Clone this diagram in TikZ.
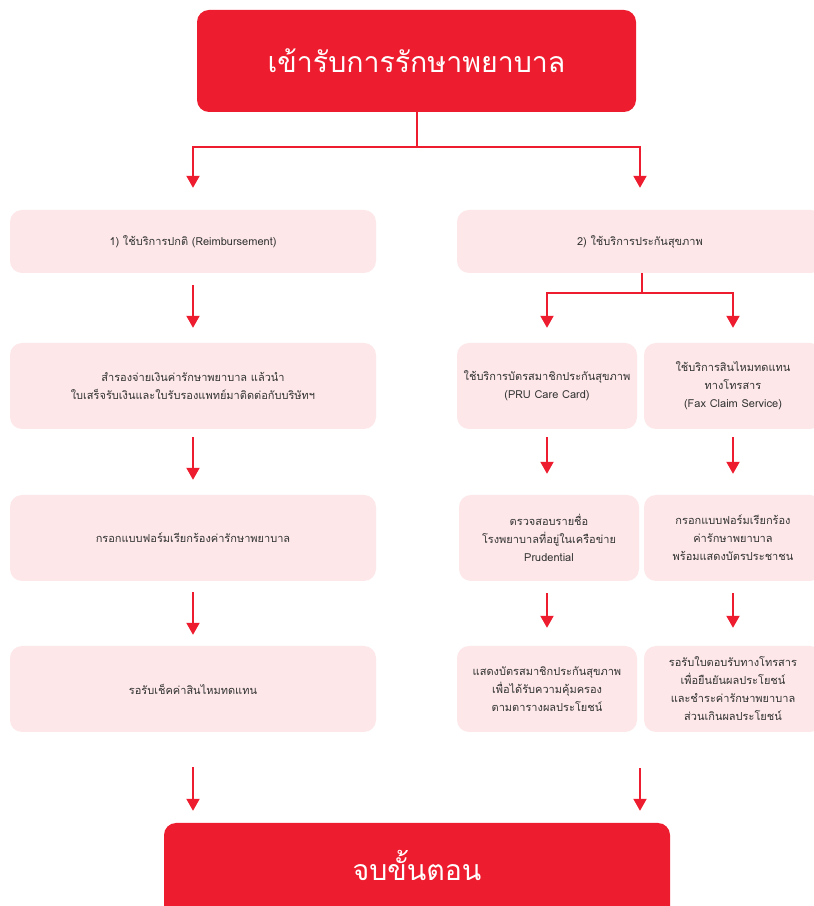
\documentclass[tikz,border=0pt]{standalone}
\usepackage{fontspec}
\newfontfamily\thaifont[Script=Thai]{Loma}
\usetikzlibrary{arrows.meta}
\definecolor{prured}{HTML}{ED1C2E}
\definecolor{prupink}{HTML}{FDE7E9}
\definecolor{prutext}{HTML}{333333}

\begin{document}
\begin{tikzpicture}[x=1pt, y=1pt, >={Triangle[width=13pt,length=12pt]},
	mainbox/.style={fill=prured, text=white, rounded corners=12pt, font=\thaifont\fontsize{28.5}{34}\selectfont},
	stepbox/.style={fill=prupink, text=prutext, rounded corners=12pt, align=center, font=\thaifont\fontsize{11}{18}\selectfont},
	link/.style={prured, line width=2pt},
	]
	\clip (0,0) rectangle (814,906);
	\fill[white] (0,0) rectangle (814,906);

	\node[mainbox, minimum width=439pt, minimum height=102pt] (top) at (416.5,845) {เข้ารับการรักษาพยาบาล};

	% left column
	\node[stepbox, minimum width=366pt, minimum height=63pt] (l1) at (193,664.5) {1) ใช้บริการปกติ (Reimbursement)};
	\node[stepbox, minimum width=366pt, minimum height=86pt] (l2) at (193,520) {สำรองจ่ายเงินค่ารักษาพยาบาล แล้วนำ\\ใบเสร็จรับเงินและใบรับรองแพทย์มาติดต่อกับบริษัทฯ};
	\node[stepbox, minimum width=366pt, minimum height=86pt] (l3) at (193,368) {กรอกแบบฟอร์มเรียกร้องค่ารักษาพยาบาล};
	\node[stepbox, minimum width=366pt, minimum height=86pt] (l4) at (193,217) {รอรับเช็คค่าสินไหมทดแทน};

	% right column
	\node[stepbox, minimum width=366pt, minimum height=63pt] (r1) at (640,664.5) {2) ใช้บริการประกันสุขภาพ};
	\node[stepbox, minimum width=180pt, minimum height=86pt] (ra1) at (547,520) {ใช้บริการบัตรสมาชิกประกันสุขภาพ\\(PRU Care Card)};
	\node[stepbox, minimum width=178pt, minimum height=86pt] (rb1) at (733,520) {ใช้บริการสินไหมทดแทน\\ทางโทรสาร\\(Fax Claim Service)};
	\node[stepbox, minimum width=180pt, minimum height=86pt] (ra2) at (549,368) {ตรวจสอบรายชื่อ\\โรงพยาบาลที่อยู่ในเครือข่าย\\Prudential};
	\node[stepbox, minimum width=178pt, minimum height=86pt] (rb2) at (733,368) {กรอกแบบฟอร์มเรียกร้อง\\ค่ารักษาพยาบาล\\พร้อมแสดงบัตรประชาชน};
	\node[stepbox, minimum width=180pt, minimum height=86pt] (ra3) at (547,217) {แสดงบัตรสมาชิกประกันสุขภาพ\\เพื่อได้รับความคุ้มครอง\\ตามตารางผลประโยชน์};
	\node[stepbox, minimum width=178pt, minimum height=86pt] (rb3) at (733,217) {รอรับใบตอบรับทางโทรสาร\\เพื่อยืนยันผลประโยชน์\\และชำระค่ารักษาพยาบาล\\ส่วนเกินผลประโยชน์};

	\node[mainbox, minimum width=506pt, minimum height=100pt] (finish) at (417,33) {};
	\node[text=white, font=\thaifont\fontsize{28.5}{34}\selectfont] (finishtext) at (finish.center |- 0,41) {จบขั้นตอน};

	% split below the title
	\draw[link] (top.south) -- ++(0,-35) coordinate (split);
	\draw[link, ->, shorten >=22pt] (split) -| (l1.north);
	\draw[link, ->, shorten >=22pt] (split) -| (r1.north);

	\draw[link, ->, shorten <=12pt, shorten >=15pt] (l1) -- (l2);
	\draw[link, ->, shorten <=8pt, shorten >=15pt] (l2) -- (l3);
	\draw[link, ->, shorten <=11pt, shorten >=11pt] (l3) -- (l4);
	\draw[link, ->, shorten <=35pt, shorten >=12pt] (l4) -- (l4 |- finish.north);

	% split below 2)
	\draw[link] (r1.south) ++(2,0) -- ++(0,-20) coordinate (rsplit);
	\draw[link, ->, shorten >=15pt] (rsplit) -| (ra1.north);
	\draw[link, ->, shorten >=15pt] (rsplit) -| (rb1.north);

	\draw[link, ->, shorten <=8pt, shorten >=21pt] (ra1) -- (ra1 |- ra2.north);
	\draw[link, ->, shorten <=8pt, shorten >=21pt] (rb1) -- (rb2);
	\draw[link, ->, shorten <=12pt, shorten >=18pt] (ra2.south -| ra1) -- (ra3);
	\draw[link, ->, shorten <=12pt, shorten >=18pt] (rb2) -- (rb3);
	\draw[link, ->, shorten <=36pt, shorten >=12pt] (ra3.south -| r1) -- (finish.north -| r1);
\end{tikzpicture}
\end{document}
